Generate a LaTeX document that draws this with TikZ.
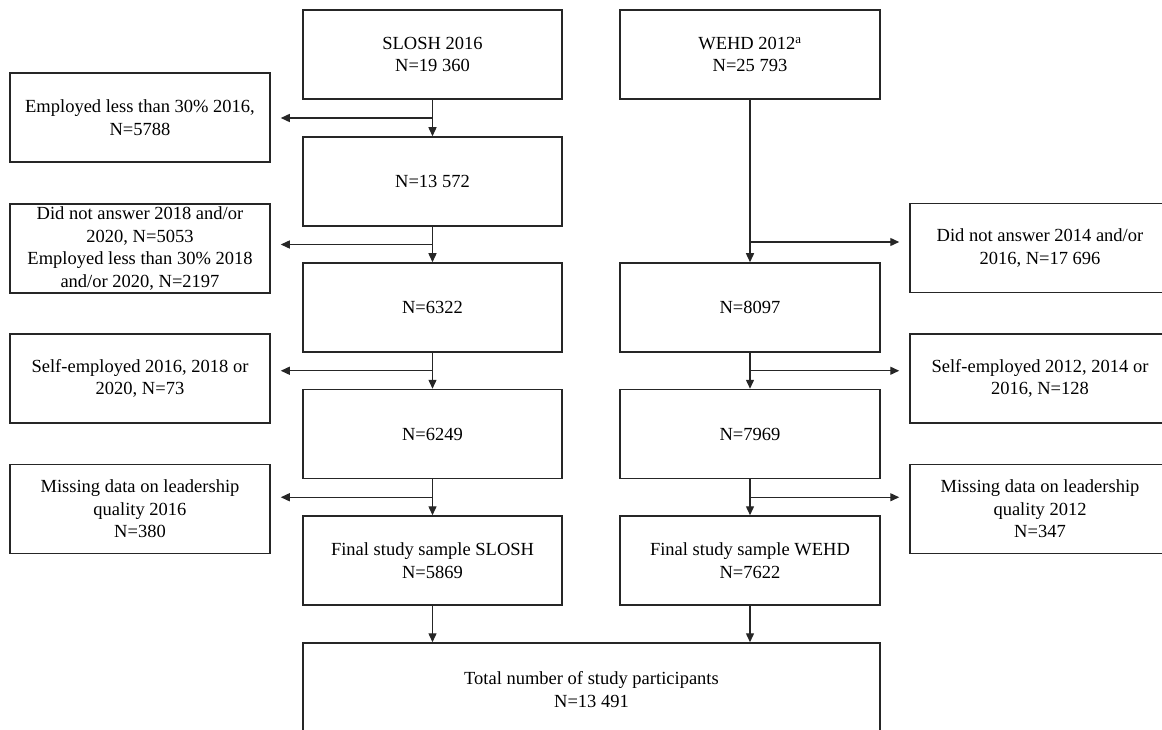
\documentclass[tikz,border=0pt]{standalone}
\usepackage{fontspec}
\setmainfont{Liberation Serif}
\usetikzlibrary{arrows.meta,calc}
\begin{document}
\begin{tikzpicture}[x=1pt,y=-1pt,
  box/.style={draw=black!85, line width=1.5pt, minimum width=259pt, minimum height=89pt, align=center, inner sep=2pt, font=\fontsize{18.5}{22.5}\selectfont},
  wbox/.style={box, minimum width=260pt},
  arr/.style={draw=black!85, line width=1.4pt, -{Triangle[length=9pt,width=8pt]}},
  side/.style={arr, shorten >=10pt}
]
\useasboundingbox (0,0) rectangle (1162,730);
\clip (0,0) rectangle (1162,730);
% SLOSH column
\node[box] (slosh) at (432.5,54.5) {SLOSH 2016\\N=19 360};
\node[box] (s2) at (432.5,181.5) {N=13 572};
\node[box] (s3) at (432.5,307.5) {N=6322};
\node[box] (s4) at (432.5,434) {N=6249};
\node[box] (sfin) at (432.5,560.5) {Final study sample SLOSH\\N=5869};
% left exclusions
\node[wbox] (l1) at (140,117.5) {Employed less than 30\% 2016,\\N=5788};
\node[wbox] (l2) at (140,248.5) {Did not answer 2018 and/or\\2020, N=5053\\Employed less than 30\% 2018\\and/or 2020, N=2197};
\node[wbox] (l3) at (140,378.5) {Self-employed 2016, 2018 or\\2020, N=73};
\node[wbox] (l4) at (140,509) {Missing data on leadership\\quality 2016\\N=380};
% WEHD column
\node[wbox] (wehd) at (750,54.5) {WEHD 2012\textsuperscript{a}\\N=25 793};
\node[wbox] (w2) at (750,307.5) {N=8097};
\node[wbox] (w3) at (750,434) {N=7969};
\node[wbox] (wfin) at (750,560.5) {Final study sample WEHD\\N=7622};
% right exclusions
\node[wbox] (r1) at (1040,248) {Did not answer 2014 and/or\\2016, N=17 696};
\node[wbox] (r2) at (1040,378.5) {Self-employed 2012, 2014 or\\2016, N=128};
\node[wbox] (r3) at (1040,509) {Missing data on leadership\\quality 2012\\N=347};
% total
\node[box, minimum width=577pt, minimum height=93pt] (total) at (591.5,689.5) {Total number of study participants\\N=13 491};
% vertical flow
\draw[arr] (slosh) -- (s2);
\draw[arr] (s2) -- (s3);
\draw[arr] (s3) -- (s4);
\draw[arr] (s4) -- (sfin);
\draw[arr] (sfin.south) -- (sfin.south |- total.north);
\draw[arr] (wehd) -- (w2);
\draw[arr] (w2) -- (w3);
\draw[arr] (w3) -- (wfin);
\draw[arr] (wfin.south) -- (wfin.south |- total.north);
% branch points
\coordinate (m1) at ($(slosh.south)!0.5!(s2.north)$);
\coordinate (m2) at ($(s2.south)!0.5!(s3.north)$);
\coordinate (m3) at ($(s3.south)!0.5!(s4.north)$);
\coordinate (m4) at ($(s4.south)!0.5!(sfin.north)$);
\coordinate (n1) at (wehd.south |- 0,242);
\coordinate (n2) at ($(w2.south)!0.5!(w3.north)$);
\coordinate (n3) at ($(w3.south)!0.5!(wfin.north)$);
\draw[side] (m1) -- (l1.east |- m1);
\draw[side] (m2) -- (l2.east |- m2);
\draw[side] (m3) -- (l3.east |- m3);
\draw[side] (m4) -- (l4.east |- m4);
\draw[side] (n1) -- (r1.west |- n1);
\draw[side] (n2) -- (r2.west |- n2);
\draw[side] (n3) -- (r3.west |- n3);
\end{tikzpicture}
\end{document}
